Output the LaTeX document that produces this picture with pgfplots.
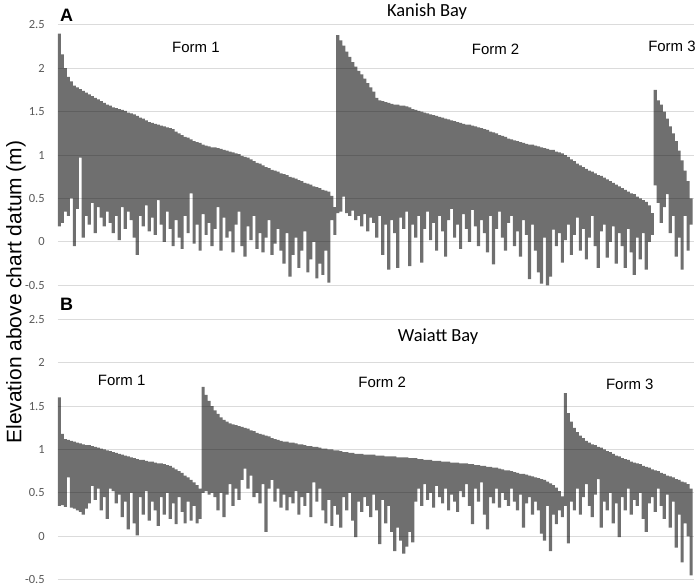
\documentclass[border=0pt]{standalone}
\usepackage{fontspec}
\setmainfont{Liberation Sans}
\newfontfamily\calib{Carlito}
\usepackage{pgfplots}
\usepackage{pgfplotstable}
\pgfplotsset{compat=1.18}
\definecolor{barc}{HTML}{6F6F6F}
\definecolor{tickc}{HTML}{595959}

% Panel A (Kanish Bay): one row per bar, sorted within each form
\pgfplotstableread[row sep=\\]{
hi lo \\
2.40 0.18 \\ 2.16 0.22 \\ 2.00 0.35 \\ 1.90 0.30 \\ 1.85 0.50 \\ 1.80 -0.05 \\ 1.78 0.38 \\ 1.76 0.97 \\ 1.74 0.05 \\ 1.72 0.30 \\
1.70 0.20 \\ 1.68 0.45 \\ 1.66 0.10 \\ 1.64 0.40 \\ 1.62 0.28 \\ 1.60 0.18 \\ 1.58 0.35 \\ 1.57 0.22 \\ 1.55 0.10 \\ 1.54 0.30 \\
1.53 0.02 \\ 1.52 0.40 \\ 1.51 0.15 \\ 1.49 0.35 \\ 1.48 0.25 \\ 1.47 0.05 \\ 1.45 -0.15 \\ 1.43 0.30 \\ 1.42 0.18 \\ 1.40 0.42 \\
1.38 0.12 \\ 1.37 0.28 \\ 1.36 0.08 \\ 1.35 0.48 \\ 1.34 0.20 \\ 1.33 0.00 \\ 1.32 0.35 \\ 1.31 0.15 \\ 1.30 -0.05 \\ 1.27 0.25 \\
1.25 0.05 \\ 1.23 -0.08 \\ 1.21 0.30 \\ 1.20 0.10 \\ 1.18 0.56 \\ 1.16 -0.02 \\ 1.15 0.20 \\ 1.14 -0.10 \\ 1.12 0.32 \\ 1.11 0.08 \\
1.10 0.22 \\ 1.09 -0.05 \\ 1.09 0.15 \\ 1.08 0.40 \\ 1.07 -0.10 \\ 1.06 0.28 \\ 1.05 0.05 \\ 1.04 0.12 \\ 1.03 -0.12 \\ 1.02 0.20 \\
1.01 0.35 \\ 0.99 -0.05 \\ 0.98 -0.17 \\ 0.97 0.18 \\ 0.95 0.02 \\ 0.93 0.30 \\ 0.91 -0.08 \\ 0.90 0.10 \\ 0.88 -0.12 \\ 0.86 0.05 \\
0.85 0.25 \\ 0.83 -0.15 \\ 0.82 -0.02 \\ 0.81 0.15 \\ 0.79 -0.10 \\ 0.78 -0.25 \\ 0.77 0.10 \\ 0.75 -0.40 \\ 0.74 -0.15 \\ 0.73 0.05 \\
0.71 -0.30 \\ 0.70 -0.10 \\ 0.68 0.12 \\ 0.67 -0.35 \\ 0.66 -0.20 \\ 0.64 0.00 \\ 0.63 -0.42 \\ 0.62 -0.25 \\ 0.60 -0.38 \\ 0.59 -0.10 \\
0.58 -0.47 \\ 0.53 0.25 \\ 0.40 0.08 \\
2.38 0.33 \\ 2.32 0.35 \\ 2.26 0.52 \\ 2.19 0.33 \\ 2.13 0.30 \\ 2.07 0.36 \\ 2.02 0.25 \\ 1.97 0.30 \\ 1.93 0.18 \\ 1.88 0.32 \\
1.83 0.12 \\ 1.78 0.28 \\ 1.73 0.22 \\ 1.66 0.05 \\ 1.63 0.30 \\ 1.62 -0.15 \\ 1.61 0.20 \\ 1.60 -0.32 \\ 1.59 0.25 \\ 1.58 0.10 \\
1.58 -0.30 \\ 1.57 0.28 \\ 1.57 0.15 \\ 1.56 0.35 \\ 1.55 -0.28 \\ 1.53 0.20 \\ 1.52 0.05 \\ 1.51 0.30 \\ 1.50 -0.24 \\ 1.49 0.15 \\
1.48 0.35 \\ 1.47 0.02 \\ 1.46 0.22 \\ 1.45 -0.10 \\ 1.44 0.30 \\ 1.43 0.12 \\ 1.42 -0.17 \\ 1.41 0.25 \\ 1.40 0.38 \\ 1.39 0.05 \\
1.38 0.20 \\ 1.37 -0.08 \\ 1.36 0.32 \\ 1.35 0.15 \\ 1.35 0.00 \\ 1.34 0.37 \\ 1.33 0.18 \\ 1.32 -0.05 \\ 1.31 0.25 \\ 1.30 0.10 \\
1.29 -0.12 \\ 1.27 0.30 \\ 1.26 -0.26 \\ 1.25 0.15 \\ 1.23 0.35 \\ 1.22 0.05 \\ 1.21 -0.10 \\ 1.19 0.22 \\ 1.18 0.30 \\ 1.17 -0.05 \\
1.16 0.12 \\ 1.15 -0.17 \\ 1.14 0.25 \\ 1.13 0.08 \\ 1.12 -0.43 \\ 1.12 0.20 \\ 1.11 -0.10 \\ 1.10 -0.35 \\ 1.09 -0.48 \\ 1.08 0.05 \\
1.07 -0.50 \\ 1.06 -0.40 \\ 1.06 0.14 \\ 1.04 -0.05 \\ 1.03 0.10 \\ 1.02 -0.24 \\ 1.00 0.02 \\ 0.98 0.20 \\ 0.95 -0.15 \\ 0.93 0.08 \\
0.90 0.28 \\ 0.88 -0.10 \\ 0.86 0.15 \\ 0.84 -0.20 \\ 0.82 0.05 \\ 0.81 0.30 \\ 0.79 -0.05 \\ 0.77 -0.30 \\ 0.76 0.12 \\ 0.74 0.20 \\
0.72 -0.18 \\ 0.70 0.00 \\ 0.68 0.18 \\ 0.66 -0.25 \\ 0.64 0.10 \\ 0.62 -0.05 \\ 0.60 -0.30 \\ 0.58 0.15 \\ 0.56 -0.12 \\ 0.55 -0.38 \\
0.52 0.05 \\ 0.50 -0.20 \\ 0.48 0.10 \\ 0.46 -0.32 \\ 0.42 0.00 \\ 0.33 0.08 \\
1.75 0.65 \\ 1.63 0.45 \\ 1.58 0.22 \\ 1.50 0.40 \\ 1.42 0.55 \\ 1.33 0.10 \\ 1.25 0.30 \\ 1.16 -0.17 \\ 1.05 0.05 \\ 0.94 -0.32 \\
0.82 0.30 \\ 0.70 -0.10 \\ 0.50 0.20 \\
}\dataA

% Panel B (Waiatt Bay)
\pgfplotstableread[row sep=\\]{
hi lo \\
1.60 0.35 \\ 1.18 0.36 \\ 1.12 0.34 \\ 1.11 0.68 \\ 1.10 0.33 \\ 1.09 0.32 \\ 1.08 0.30 \\ 1.07 0.28 \\ 1.06 0.25 \\ 1.05 0.32 \\
1.05 0.38 \\ 1.04 0.58 \\ 1.03 0.42 \\ 1.02 0.55 \\ 1.01 0.30 \\ 1.00 0.45 \\ 0.99 0.20 \\ 0.98 0.55 \\ 0.97 0.52 \\ 0.96 0.38 \\
0.95 0.48 \\ 0.94 0.22 \\ 0.93 0.40 \\ 0.92 0.08 \\ 0.91 0.50 \\ 0.90 0.15 \\ 0.89 0.01 \\ 0.88 0.45 \\ 0.88 0.25 \\ 0.87 0.52 \\
0.86 0.18 \\ 0.86 0.40 \\ 0.85 0.30 \\ 0.84 0.12 \\ 0.84 0.45 \\ 0.83 0.25 \\ 0.82 0.50 \\ 0.81 0.20 \\ 0.79 0.38 \\ 0.77 0.14 \\
0.75 0.45 \\ 0.73 0.28 \\ 0.70 0.15 \\ 0.68 0.40 \\ 0.65 0.18 \\ 0.62 0.35 \\ 0.59 0.15 \\ 0.55 0.20 \\
1.72 0.50 \\ 1.63 0.52 \\ 1.56 0.48 \\ 1.50 0.50 \\ 1.45 0.45 \\ 1.41 0.30 \\ 1.37 0.50 \\ 1.34 0.22 \\ 1.32 0.48 \\ 1.30 0.60 \\
1.29 0.35 \\ 1.28 0.55 \\ 1.27 0.42 \\ 1.26 0.65 \\ 1.25 0.78 \\ 1.24 0.55 \\ 1.22 0.70 \\ 1.21 0.45 \\ 1.19 0.50 \\ 1.18 0.38 \\
1.17 0.60 \\ 1.16 0.05 \\ 1.15 0.55 \\ 1.13 0.65 \\ 1.12 0.40 \\ 1.11 0.55 \\ 1.10 0.33 \\ 1.09 0.48 \\ 1.09 0.30 \\ 1.08 0.45 \\
1.08 0.38 \\ 1.07 0.52 \\ 1.06 0.25 \\ 1.06 0.45 \\ 1.05 0.35 \\ 1.04 0.50 \\ 1.04 0.22 \\ 1.03 0.62 \\ 1.03 0.40 \\ 1.02 0.55 \\
1.01 0.30 \\ 1.01 0.15 \\ 1.00 0.42 \\ 1.00 0.12 \\ 0.99 0.35 \\ 0.99 0.25 \\ 0.98 0.10 \\ 0.97 0.45 \\ 0.97 0.30 \\ 0.96 0.50 \\
0.96 0.18 \\ 0.95 -0.01 \\ 0.95 0.40 \\ 0.95 0.28 \\ 0.94 0.45 \\ 0.94 0.35 \\ 0.94 0.22 \\ 0.94 0.48 \\ 0.93 0.30 \\ 0.93 -0.09 \\
0.93 0.42 \\ 0.92 0.15 \\ 0.92 0.35 \\ 0.92 0.05 \\ 0.92 -0.17 \\ 0.91 0.10 \\ 0.91 -0.05 \\ 0.91 -0.20 \\ 0.91 -0.12 \\ 0.90 0.05 \\
0.90 -0.07 \\ 0.90 0.40 \\ 0.89 0.55 \\ 0.89 0.35 \\ 0.88 0.60 \\ 0.88 0.42 \\ 0.88 0.50 \\ 0.87 0.33 \\ 0.87 0.58 \\ 0.87 0.45 \\
0.86 0.38 \\ 0.86 0.55 \\ 0.86 0.30 \\ 0.85 0.48 \\ 0.85 0.40 \\ 0.85 0.28 \\ 0.84 0.52 \\ 0.84 0.45 \\ 0.84 0.60 \\ 0.83 0.35 \\
0.83 0.14 \\ 0.82 0.55 \\ 0.82 0.40 \\ 0.81 0.62 \\ 0.81 0.25 \\ 0.80 0.08 \\ 0.80 0.45 \\ 0.79 0.38 \\ 0.79 0.55 \\ 0.78 0.33 \\
0.77 0.50 \\ 0.76 0.42 \\ 0.76 0.35 \\ 0.75 0.55 \\ 0.74 0.40 \\ 0.73 0.30 \\ 0.72 0.48 \\ 0.72 0.10 \\ 0.71 0.38 \\ 0.70 0.45 \\
0.69 0.25 \\ 0.68 0.40 \\ 0.67 0.30 \\ 0.66 0.03 \\ 0.65 -0.05 \\ 0.63 0.35 \\ 0.61 -0.17 \\ 0.59 0.25 \\ 0.56 0.14 \\ 0.52 0.30 \\
0.46 0.22 \\
1.65 0.35 \\ 1.42 -0.08 \\ 1.32 0.40 \\ 1.25 0.30 \\ 1.20 0.55 \\ 1.16 0.25 \\ 1.13 0.45 \\ 1.10 0.60 \\ 1.08 0.35 \\ 1.06 0.22 \\
1.05 0.48 \\ 1.03 0.66 \\ 1.02 0.10 \\ 1.00 0.40 \\ 0.98 0.30 \\ 0.97 0.50 \\ 0.95 0.15 \\ 0.93 0.38 \\ 0.92 -0.01 \\ 0.90 0.45 \\
0.89 0.30 \\ 0.88 0.55 \\ 0.86 0.25 \\ 0.85 0.42 \\ 0.84 0.35 \\ 0.83 0.50 \\ 0.81 0.20 \\ 0.80 0.05 \\ 0.79 0.38 \\ 0.77 0.45 \\
0.76 0.28 \\ 0.75 0.55 \\ 0.73 0.35 \\ 0.72 0.20 \\ 0.70 0.48 \\ 0.69 0.10 \\ 0.68 0.40 \\ 0.66 -0.13 \\ 0.65 0.25 \\ 0.63 -0.30 \\
0.62 0.15 \\ 0.60 0.00 \\ 0.55 -0.45 \\
}\dataB

\pgfplotsset{panel/.style={
  scale only axis, width=637pt, height=261pt,
  anchor=south west,
  xmin=-0.5, xmax=211.83, ymin=-0.5, ymax=2.5,
  enlargelimits=false,
  axis line style={draw=none},
  xtick=\empty,
  ytick={-0.5,0,0.5,1,1.5,2,2.5},
  major tick length=0pt,
  ymajorgrids, axis on top,
  grid style={draw=black, draw opacity=0.14, line width=0.8pt},
  /pgf/number format/assume math mode=true,
  yticklabel style={font=\calib\fontsize{12.5}{12.5}\selectfont, text=tickc,
    anchor=east, inner sep=0pt, xshift=-13pt},
  ybar stacked, stack negative=on previous, bar width=1.06,
  clip=false,
}}

\begin{document}
\begin{tikzpicture}
\path (0pt,0pt) rectangle (699pt,585pt);

\begin{axis}[panel, at={(58pt,300.7pt)}]
\addplot[draw=none, fill=none] table[x expr=\coordindex, y=lo]{\dataA};
\addplot[draw=none, fill=barc] table[x expr=\coordindex, y expr=\thisrow{hi}-\thisrow{lo}]{\dataA};
\node[font=\bfseries\fontsize{18}{18}\selectfont, anchor=base] at (axis cs:2.4,2.54) {A};
\node[font=\calib\fontsize{18.5}{18.5}\selectfont, anchor=base] at (axis cs:122.8,2.60) {Kanish Bay};
\node[font=\fontsize{15}{15}\selectfont, anchor=base] at (axis cs:45.6,2.18) {Form 1};
\node[font=\fontsize{15}{15}\selectfont, anchor=base] at (axis cs:145.7,2.16) {Form 2};
\node[font=\fontsize{15}{15}\selectfont, anchor=base] at (axis cs:204.6,2.197) {Form 3};
\end{axis}

\begin{axis}[panel, at={(58pt,5.7pt)}]
\addplot[draw=none, fill=none] table[x expr=\coordindex, y=lo]{\dataB};
\addplot[draw=none, fill=barc] table[x expr=\coordindex, y expr=\thisrow{hi}-\thisrow{lo}]{\dataB};
\node[font=\bfseries\fontsize{18}{18}\selectfont, anchor=base] at (axis cs:2.4,2.60) {B};
\node[font=\calib\fontsize{18.5}{18.5}\selectfont, anchor=base] at (axis cs:126.5,2.243) {Waiatt Bay};
\node[font=\fontsize{15}{15}\selectfont, anchor=base] at (axis cs:20.8,1.736) {Form 1};
\node[font=\fontsize{15}{15}\selectfont, anchor=base] at (axis cs:107.8,1.717) {Form 2};
\node[font=\fontsize{15}{15}\selectfont, anchor=base] at (axis cs:190.5,1.69) {Form 3};
\end{axis}

\node[rotate=90, anchor=base, font=\fontsize{21}{21}\selectfont] at (21.5pt,294pt) {Elevation above chart datum (m)};
\end{tikzpicture}
\end{document}
